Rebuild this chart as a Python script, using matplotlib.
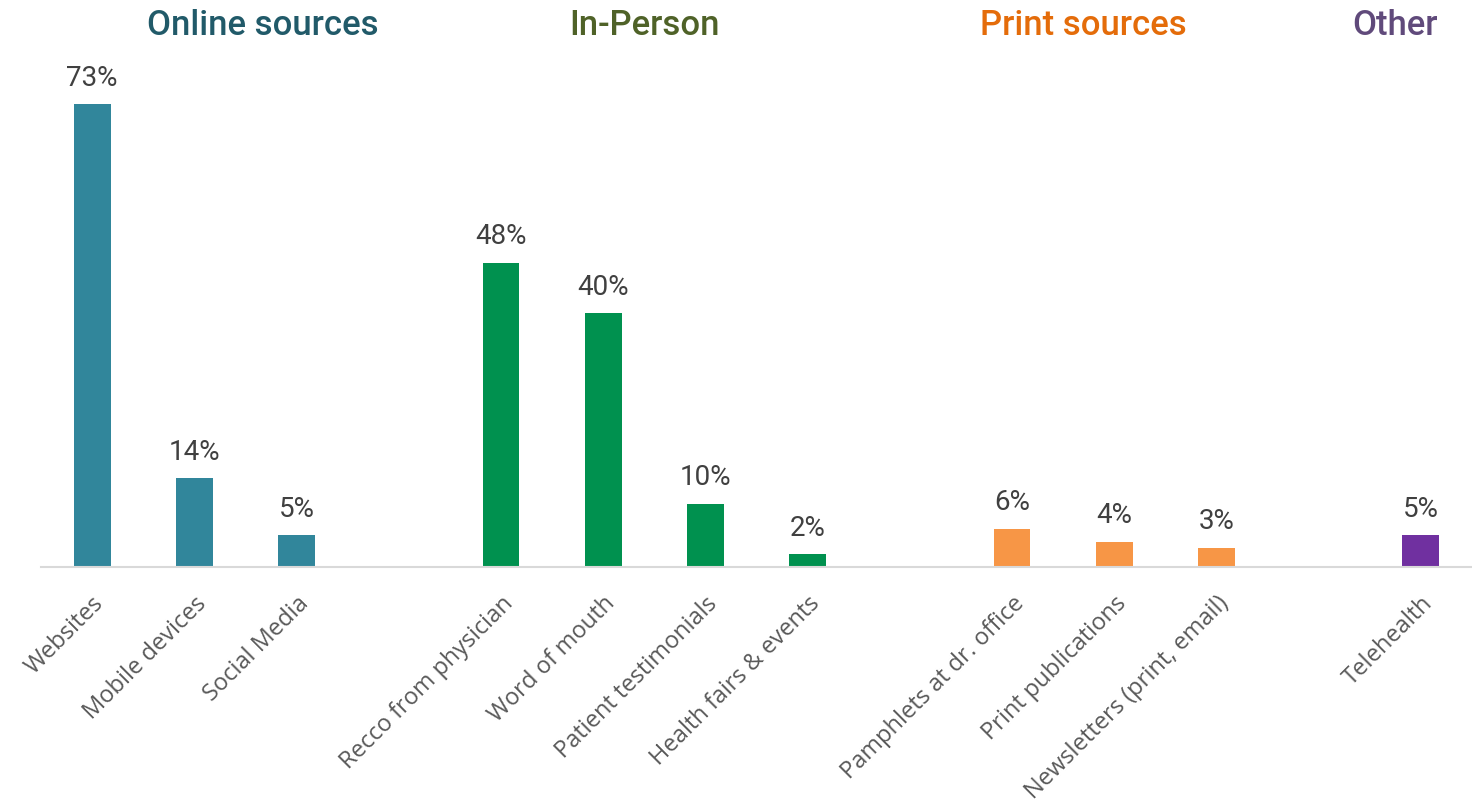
import matplotlib.pyplot as plt
import numpy as np

# Data
categories = ["Websites", "Mobile devices", "Social Media",
              "Recco from physician", "Word of mouth", "Patient testimonials", "Health fairs & events",
              "Pamphlets at dr. office", "Print publications", "Newsletters (print, email)",
              "Telehealth"]
values = [73, 14, 5, 48, 40, 10, 2, 6, 4, 3, 5]
group_of = [0, 0, 0, 1, 1, 1, 1, 2, 2, 2, 3]
group_names = ["Online sources", "In-Person", "Print sources", "Other"]

bar_colors = ["#31869B", "#00914F", "#F79646", "#7030A0"]
title_colors = ["#215A69", "#4F6228", "#E46C0A", "#604A7B"]

# one empty slot between groups
positions = []
pos = 0
for i, g in enumerate(group_of):
    if i > 0 and g != group_of[i - 1]:
        pos += 1
    positions.append(pos)
    pos += 1
positions = np.array(positions)

fig = plt.figure(figsize=(14.72, 8.11), dpi=100)
ax = fig.add_axes([41 / 1472, 0.301, 1 - 41 / 1472, 0.625])

ax.bar(positions, values, width=0.36,
       color=[bar_colors[g] for g in group_of])

for x, v in zip(positions, values):
    ax.text(x, v + 2.0, f"{v}%", ha="center", va="bottom",
            fontsize=20, color="#404040", family="Roboto")

# group titles (placed by hand above the groups, as in the original)
titles_x = [1.67, 5.4, 9.7, 12.75]
for g, name in enumerate(group_names):
    ax.text(titles_x[g], 85.5, name, ha="center", va="center",
            fontsize=25, color=title_colors[g], family="Roboto",
            fontweight="medium")

ax.set_xlim(-0.5, 13.5)
ax.set_ylim(0, 80)
ax.set_xticks(positions)
ax.set_xticklabels(categories, rotation=45, ha="right", va="top",
                   rotation_mode="anchor", fontsize=17, color="#595959",
                   family="Open Sans")
ax.tick_params(axis="x", length=0, pad=18)
ax.set_yticks([])
for s in ["top", "right", "left"]:
    ax.spines[s].set_visible(False)
ax.spines["bottom"].set_color("#D9D9D9")
ax.spines["bottom"].set_linewidth(1.5)

fig.savefig("out.png", dpi=100)
